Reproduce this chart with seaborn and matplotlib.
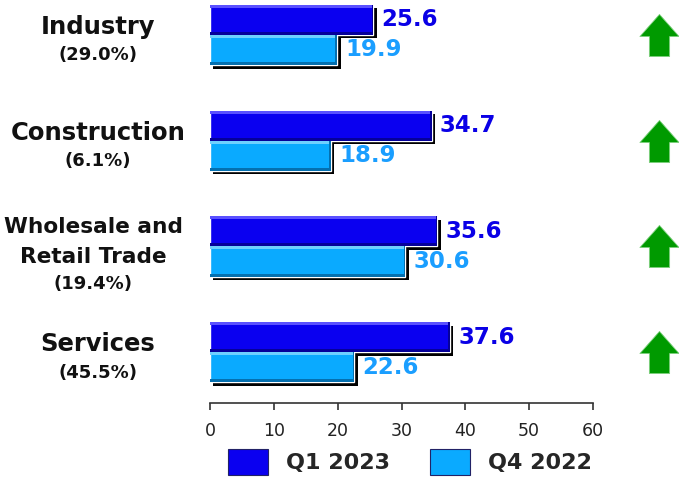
import numpy as np
import pandas as pd
import matplotlib
matplotlib.use("Agg")
import matplotlib.pyplot as plt
import matplotlib.patheffects as pe
from matplotlib.patches import Rectangle
from matplotlib.path import Path
from matplotlib.transforms import blended_transform_factory
import seaborn as sns

# Sector growth rates (%), current and previous quarter
sectors = ["Industry", "Construction", "Wholesale and\nRetail Trade", "Services"]
shares = ["(29.0%)", "(6.1%)", "(19.4%)", "(45.5%)"]
q1_2023 = [25.6, 34.7, 35.6, 37.6]
q4_2022 = [19.9, 18.9, 30.6, 22.6]
periods = ["Q1 2023", "Q4 2022"]
x_ticks = [0, 10, 20, 30, 40, 50, 60]

bar_colors = ["#0A00F0", "#0AAAFF"]
label_colors = ["#0A00E6", "#1A9EFF"]
arrow_color = "#009A00"

df = pd.DataFrame({
    "sector": sectors * 2,
    "value": q1_2023 + q4_2022,
    "period": [periods[0]] * len(sectors) + [periods[1]] * len(sectors),
})

sns.set_theme(style="white")
plt.rcParams["font.family"] = ["DejaVu Sans"]

fig = plt.figure(figsize=(6.79, 4.78), dpi=100)
ax = fig.add_axes([210 / 679, 75 / 478, 383 / 679, 403 / 478])

sns.barplot(data=df, y="sector", x="value", hue="period", order=sectors,
            hue_order=periods, palette=bar_colors, orient="h", width=0.57,
            saturation=1, ax=ax, legend=False, zorder=3)

ax.set_xlim(0, 60)
ax.set_ylim(3.48, -0.33)
ax.set_xticks(x_ticks)
ax.set_xlabel("")
ax.set_ylabel("")
ax.set_yticks([])
for side in ["top", "right", "left"]:
    ax.spines[side].set_visible(False)
ax.spines["bottom"].set_color("#333333")
ax.spines["bottom"].set_linewidth(1.2)
ax.tick_params(axis="x", bottom=True, length=5, width=1.2, color="#333333",
               labelsize=12.5, labelcolor="#222222", pad=9)

# Beveled look with drop shadow for each bar
shadow = [pe.SimplePatchShadow(offset=(2.5, -2.5), shadow_rgbFace="black", alpha=1.0), pe.Normal()]
bars = list(ax.patches)
for i, patch in enumerate(bars):
    patch.set_path_effects(shadow)
    x0, y0 = patch.get_x(), patch.get_y()
    w, h = patch.get_width(), patch.get_height()
    light = "#6FD0FF" if i >= len(sectors) else "#5A50FF"
    dark = "#0470B0" if i >= len(sectors) else "#05009A"
    ax.add_patch(Rectangle((x0, y0), w, h * 0.1, color=light, zorder=4, lw=0))
    ax.add_patch(Rectangle((x0, y0 + h * 0.9), w, h * 0.1, color=dark, zorder=4, lw=0))
    ax.add_patch(Rectangle((x0 + w - 0.25, y0), 0.25, h, color=dark, zorder=4, lw=0))

# Value labels
for i, patch in enumerate(bars):
    series = 0 if i < len(sectors) else 1
    val = patch.get_width()
    ax.text(val + 1.3, patch.get_y() + patch.get_height() / 2, f"{val:.1f}",
            ha="left", va="center", fontsize=16.5, fontweight="bold",
            color=label_colors[series], zorder=5)

# Category labels with sector share, one text per line
trans = blended_transform_factory(ax.transAxes, ax.transData)
for i, (name, share) in enumerate(zip(sectors, shares)):
    lines = name.split("\n")
    if len(lines) == 1:
        label_x, size = -0.293, 17.5
        offsets = [-0.01]
        share_off = 0.24
    else:
        label_x, size = -0.305, 15.6
        offsets = [-0.13, 0.155]
        share_off = 0.40
    for line, off in zip(lines, offsets):
        ax.text(label_x, i + off, line, transform=trans, ha="center", va="baseline",
                fontsize=size, fontweight="bold", color="#111111")
    ax.text(label_x, i + share_off, share, transform=trans, ha="center", va="baseline",
            fontsize=13, fontweight="bold", color="#111111")

# Up arrows marking growth versus the previous quarter
arrow = Path([(0, 0.5), (0.465, -0.025), (0.24, -0.025), (0.24, -0.5),
              (-0.24, -0.5), (-0.24, -0.025), (-0.465, -0.025), (0, 0.5)],
             [Path.MOVETO] + [Path.LINETO] * 6 + [Path.CLOSEPOLY])
ax.scatter([70.3] * len(sectors), np.arange(len(sectors)), marker=arrow, s=920,
           color=arrow_color, edgecolors="#7FD07F", linewidths=0.6,
           clip_on=False, zorder=5)

# Legend
handles = [Rectangle((0, 0), 1, 1, facecolor=c, edgecolor="#222266", lw=0.8) for c in bar_colors]
leg = fig.legend(handles, periods, loc="center", bbox_to_anchor=(410 / 679, 1 - 462 / 478),
                 ncol=2, frameon=False, handlelength=1.8, handleheight=1.4,
                 handletextpad=0.8, columnspacing=1.8,
                 prop={"size": 16, "weight": "bold"})

fig.savefig("out.png", dpi=100)
